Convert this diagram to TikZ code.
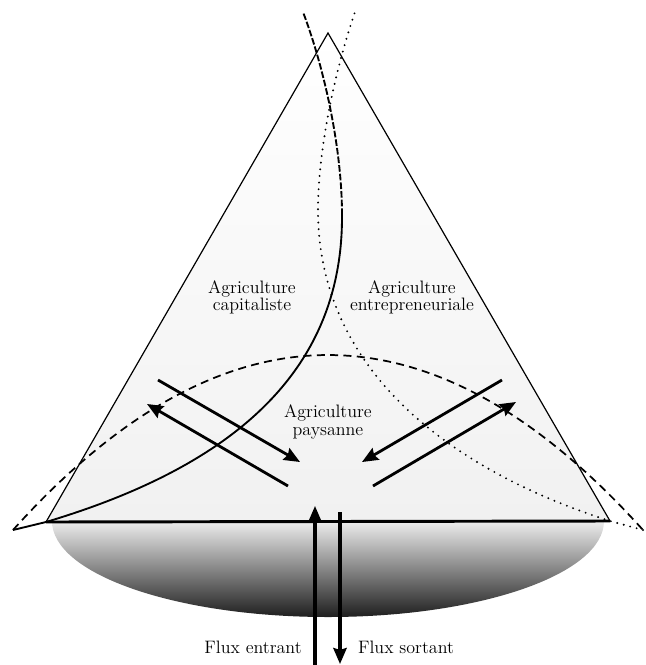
\documentclass[tikz,border=0pt]{standalone}
\usetikzlibrary{arrows.meta}
\begin{document}
\begin{tikzpicture}[x=0.75pt,y=-0.75pt,
  lbl/.style={font=\fontsize{13.5}{13}\selectfont, align=center, inner sep=0pt},
  tip/.style={-{Stealth[length=12pt,width=10pt,inset=1.5pt]}},
  flux/.style={tip, line width=2.4pt},
  diag/.style={tip, line width=2.1pt},
  side/.style={line width=0.9pt},
  capit/.style={line width=1.4pt},
  capitdash/.style={line width=1.4pt, dash pattern=on 5pt off 1.5pt},
  entre/.style={line width=1.6pt, dash pattern=on 0pt off 5pt, line cap=round},
  peasant/.style={line width=1.3pt, dash pattern=on 6pt off 4pt},
]
\useasboundingbox (0,0) rectangle (646,665);

\coordinate (A) at (328,33);
\coordinate (L) at (46,522);
\coordinate (R) at (610,521);

% shadings
\shade[top color=white, bottom color=gray!11] (A) -- (L) -- (R) -- cycle;
\shade[top color=gray!14, middle color=gray!45, bottom color=black!88]
  (52,521) .. controls (52,574) and (175.6,617) .. (328,617)
  .. controls (480.4,617) and (604,574) .. (604,521) -- cycle;

% curves
\draw[peasant] (13,530) .. controls (223,296.7) and (433,296.7) .. (643,530);
\draw[capit] (13,530) -- (L) .. controls (220,470) and (343,380) .. (342,215);
\draw[capitdash] (342,215) .. controls (342,150) and (325,70) .. (303,12);
\draw[entre] (643,530) -- (R) .. controls (450,470) and (318,370) .. (318,210)
  .. controls (318,150) and (335,70) .. (355,12);

% triangle
\draw[side] (L) -- (A) -- (R);
\draw[line width=2.2pt] (L) -- (R);

% diagonal arrows
\coordinate (a1s) at (158,380); \coordinate (a1e) at (300,462);
\coordinate (a2s) at (288,486); \coordinate (a2e) at (147,404);
\coordinate (a3s) at (502,380); \coordinate (a3e) at (362,462);
\coordinate (a4s) at (373,486); \coordinate (a4e) at (516,402);
\draw[diag] (a1s) -- (a1e);
\draw[diag] (a2s) -- (a2e);
\draw[diag] (a3s) -- (a3e);
\draw[diag] (a4s) -- (a4e);

% flux arrows
\coordinate (fin0) at (315,665); \coordinate (fin1) at (315,506);
\coordinate (fout0) at (340,512); \coordinate (fout1) at (340,664);
\draw[flux] (fin0) -- (fin1);
\draw[flux] (fout0) -- (fout1);

% labels
\node[lbl] (cap) at (252,297) {Agriculture\\capitaliste};
\node[lbl] (ent) at (412,297) {Agriculture\\entrepreneuriale};
\node[lbl] (pay) at (328,422) {Agriculture\\paysanne};
\node[lbl] (fe) at (253,647) {Flux entrant};
\node[lbl] (fs) at (406,647) {Flux sortant};
\end{tikzpicture}
\end{document}
